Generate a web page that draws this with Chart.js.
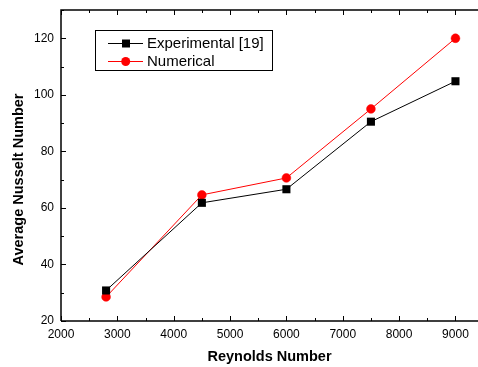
<!DOCTYPE html>
<html><head><meta charset="utf-8">
<script src="https://cdn.jsdelivr.net/npm/chart.js@4/dist/chart.umd.min.js"></script>
<style>html,body{margin:0;padding:0;background:#fff}#wrap{width:478px;height:367px}</style>
</head><body><div id="wrap"><canvas id="c" width="478" height="367"></canvas></div>
<script>
const reynolds = [2800, 4500, 6000, 7500, 9000];
const experimental = [30.8, 61.8, 66.6, 90.5, 104.8];
const numerical = [28.5, 64.6, 70.6, 95.0, 120.0];
const xTickLabels = [2000, 3000, 4000, 5000, 6000, 7000, 8000, 9000];
const yTickLabels = [20, 40, 60, 80, 100, 120];
const seriesNames = ['Experimental [19]', 'Numerical'];
const xTitle = 'Reynolds Number';
const yTitle = 'Average Nusselt Number';

const FONT = '"Liberation Sans", Arial, sans-serif';
const zeroPad = (s) => { s.paddingLeft = 0; s.paddingRight = 0; s.paddingTop = 0; s.paddingBottom = 0; };

const framePlugin = {
  id: 'frame',
  afterDraw(chart) {
    const {ctx, chartArea: a, scales: {x, y}} = chart;
    ctx.save();
    ctx.strokeStyle = '#000';
    ctx.lineWidth = 1.5;
    ctx.beginPath();
    ctx.moveTo(a.left, a.bottom); ctx.lineTo(a.left, a.top); ctx.lineTo(chart.width, a.top);
    ctx.moveTo(a.left, a.bottom); ctx.lineTo(chart.width, a.bottom);
    ctx.stroke();
    ctx.lineWidth = 1;
    ctx.beginPath();
    const xStep = 500, yStep = 10;
    for (let v = x.min; v <= x.max; v += xStep) {
      const px = Math.round(x.getPixelForValue(v)) + 0.5;
      const L = (v % 1000 === 0) ? 5 : 3;
      ctx.moveTo(px, a.bottom); ctx.lineTo(px, a.bottom - L);
      ctx.moveTo(px, a.top); ctx.lineTo(px, a.top + L);
    }
    for (let v = y.min; v <= y.max; v += yStep) {
      const py = Math.round(y.getPixelForValue(v)) + 0.5;
      const L = (v % 20 === 0) ? 5 : 3;
      ctx.moveTo(a.left, py); ctx.lineTo(a.left + L, py);
    }
    ctx.stroke();
    // y-axis title (placed slightly below the axis centre, as in the original)
    ctx.translate(18.5, 179.5);
    ctx.rotate(-Math.PI / 2);
    ctx.fillStyle = '#000';
    ctx.font = 'bold 14.5px ' + FONT;
    ctx.textAlign = 'center';
    ctx.textBaseline = 'middle';
    ctx.fillText(yTitle, 0, 0);
    ctx.restore();
  }
};

const legendPlugin = {
  id: 'boxLegend',
  afterDraw(chart) {
    const ctx = chart.ctx;
    const bx = 95.5, by = 30.5, bw = 177, bh = 40;
    ctx.save();
    ctx.strokeStyle = '#000';
    ctx.lineWidth = 1;
    ctx.strokeRect(bx, by, bw, bh);
    const rows = [43.5, 61.5];
    chart.data.datasets.forEach((ds, i) => {
      const yy = rows[i];
      ctx.strokeStyle = ds.borderColor;
      ctx.lineWidth = 1;
      ctx.beginPath(); ctx.moveTo(108, yy); ctx.lineTo(143, yy); ctx.stroke();
      ctx.fillStyle = ds.pointBackgroundColor;
      if (ds.pointStyle === 'rect') {
        ctx.fillRect(122, yy - 4, 8, 8);
      } else {
        ctx.beginPath(); ctx.arc(125.7, yy, 4.5, 0, Math.PI * 2); ctx.fill();
      }
      ctx.fillStyle = '#000';
      ctx.font = '15px ' + FONT;
      ctx.textBaseline = 'middle';
      ctx.textAlign = 'left';
      ctx.fillText(ds.label, 147, yy + 0.5);
    });
    ctx.restore();
  }
};

new Chart(document.getElementById('c'), {
  type: 'line',
  data: {
    datasets: [
      {
        label: seriesNames[0],
        data: reynolds.map((r, i) => ({x: r, y: experimental[i]})),
        borderColor: '#000000', backgroundColor: '#000000',
        pointBackgroundColor: '#000000', pointBorderColor: '#000000',
        borderWidth: 1, pointStyle: 'rect', pointRadius: 5.7, pointBorderWidth: 0,
        tension: 0, fill: false
      },
      {
        label: seriesNames[1],
        data: reynolds.map((r, i) => ({x: r, y: numerical[i]})),
        borderColor: '#ff0000', backgroundColor: '#ff0000',
        pointBackgroundColor: '#ff0000', pointBorderColor: '#ff0000',
        borderWidth: 1, pointStyle: 'circle', pointRadius: 4.4, pointBorderWidth: 0.5,
        tension: 0, fill: false
      }
    ]
  },
  options: {
    responsive: false,
    devicePixelRatio: 1,
    animation: false,
    layout: {autoPadding: false, padding: {top: 10, left: 0, right: 0, bottom: 0}},
    plugins: {legend: {display: false}, tooltip: {enabled: false}},
    scales: {
      x: {
        type: 'linear', min: 2000, max: 9400,
        grid: {display: false, drawTicks: false},
        border: {display: false},
        afterFit(s) { s.height = 46; zeroPad(s); },
        afterBuildTicks(s) { s.ticks = xTickLabels.map(v => ({value: v})); },
        ticks: {color: '#000', padding: 6, maxRotation: 0, font: {family: FONT, size: 12},
          callback: (v) => String(v)},
        title: {display: true, text: xTitle, color: '#000', padding: {top: 0, bottom: 1},
          font: {family: FONT, size: 14.5, weight: 'bold'}}
      },
      y: {
        type: 'linear', min: 20, max: 130,
        grid: {display: false, drawTicks: false},
        border: {display: false},
        afterFit(s) { s.width = 61; zeroPad(s); },
        afterBuildTicks(s) { s.ticks = yTickLabels.map(v => ({value: v})); },
        ticks: {color: '#000', padding: 7, font: {family: FONT, size: 12},
          callback: (v) => String(v)},
        title: {display: false, text: yTitle}
      }
    }
  },
  plugins: [framePlugin, legendPlugin]
});
</script>
</body></html>
